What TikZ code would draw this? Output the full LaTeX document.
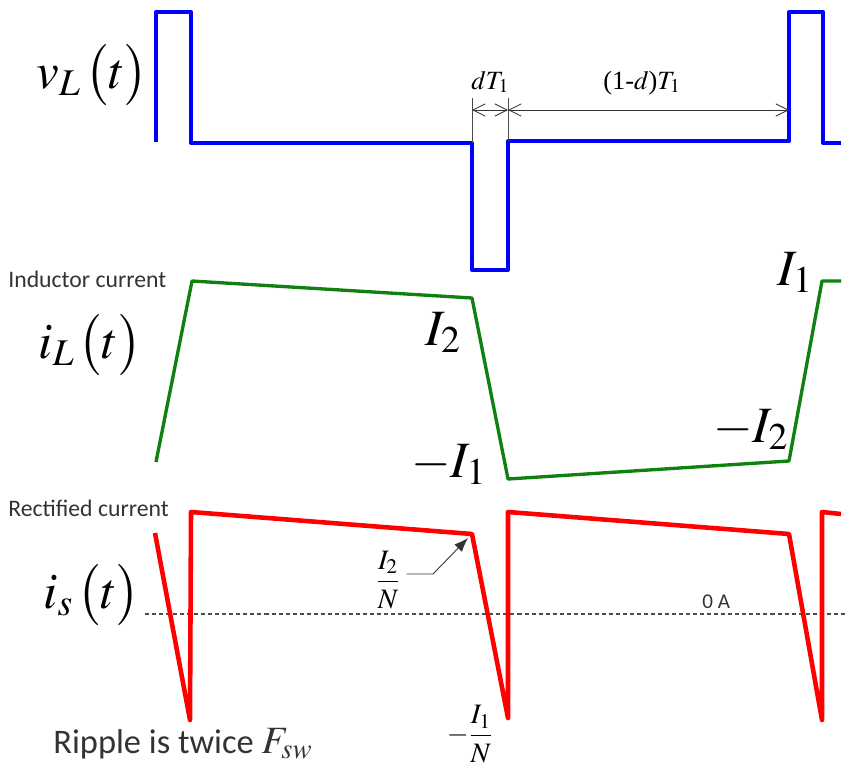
\documentclass[tikz,border=0pt]{standalone}
\usepackage{mathptmx}
\usepackage{fontspec}
\setmainfont{Liberation Serif}
\newfontfamily\calibri{Carlito}
\usetikzlibrary{arrows.meta}
\definecolor{volt}{RGB}{0, 0, 255}
\definecolor{ind}{RGB}{16, 128, 16}
\definecolor{rect}{RGB}{255, 0, 0}
\definecolor{note}{RGB}{51, 51, 51}

\tikzset{
  wave/.style={line width=#1, line join=round},
  biglabel/.style={anchor=base west, inner sep=0, font=\fontsize{29}{32}\selectfont},
  caption/.style={anchor=base west, inner sep=0, text=note, font=\calibri\fontsize{13.5}{16}\selectfont},
  dimext/.style={line width=0.5pt, black!70},
  dimline/.style={line width=0.5pt, black!80,
    {Straight Barb[length=7pt, width=7pt]}-{Straight Barb[length=7pt, width=7pt]}},
  leader/.style={line width=0.5pt, black!80, -{Latex[length=8pt, width=6pt]}}
}

\begin{document}
\begin{tikzpicture}[x=0.02cm, y=-0.02cm]
  \useasboundingbox (0,0) rectangle (846,764);

  % inductor voltage
  \draw[volt, wave=2.3pt]
    (156,142) -- (156,12) -- (191,12) -- (191,143) -- (472,143) -- (472,270)
    -- (508,270) -- (508,141) -- (789,141) -- (789,12) -- (823,12) -- (823,143) -- (841,143);
  \node[biglabel] (vL) at (36,88) {$v_{L\,}\bigl(t\bigr)$};

  \coordinate (on) at (472,110);
  \coordinate (off) at (508,110);
  \coordinate (next) at (789,110);
  \draw[dimext] (472,98) -- (472,143);
  \draw[dimext] (508,98) -- (508,141);
  \draw[dimline] (on) -- (off);
  \draw[dimline] (off) -- (next);
  \node[anchor=base west, inner sep=0, font=\fontsize{15}{18}\selectfont] (dT) at (471,89) {$dT_1$};
  \node[anchor=base west, inner sep=0, font=\fontsize{15}{18}\selectfont] (offT) at (603,89) {(1-$d$)$T_1$};

  % inductor current
  \draw[ind, wave=1.9pt]
    (156,462) -- (192,281) -- (472,298) -- (508,479) -- (789,461) -- (822,281) -- (841,281);
  \node[caption] (indcap) at (8,287) {Inductor current};
  \node[biglabel] (iL) at (38,358) {$i_{L\,}\bigl(t\bigr)$};
  \node[biglabel] (Itwo) at (425,345) {$I_2$};
  \node[biglabel] (mIone) at (411,477) {$-I_1$};
  \node[biglabel] (Ione) at (777,285) {$I_1$};
  \node[biglabel] (mItwo) at (713,442) {$-I_2$};

  % rectified current
  \draw[black!70, line width=0.6pt, dash pattern=on 2.3pt off 1.7pt] (145,614) -- (846,614);
  \node[anchor=base west, inner sep=0, text=note, font=\calibri\fontsize{12}{14}\selectfont] (zero) at (702,608) {0 A};
  \draw[rect, wave=2.6pt]
    (155,533) -- (190,720) -- (191,512) -- (472,534) -- (508,718) -- (508,512)
    -- (789,534) -- (822,720) -- (822,512) -- (841,514);
  \node[caption] (rectcap) at (8,516) {Rectified current};
  \node[biglabel] (is) at (43,608) {$i_{s\,}\bigl(t\bigr)$};

  \node[font=\fontsize{16}{18}\selectfont] (fracItwo) at (388,580) {$\displaystyle\frac{I_2}{N}$};
  \coordinate (knee) at (433,574);
  \coordinate (peak) at (468,538);
  \draw[leader] (fracItwo.east |- knee) -- (knee) -- (peak);
  \node[anchor=south, inner sep=0, font=\fontsize{16}{18}\selectfont] (fracIone) at (470,763) {$\displaystyle-\frac{I_1}{N}$};

  \node[anchor=base west, inner sep=0, text=note, font=\calibri\fontsize{19.6}{23}\selectfont] (ripple) at (53,753)
    {Ripple is twice {\fontsize{22}{24}\selectfont$F_{sw}$}};
\end{tikzpicture}
\end{document}
